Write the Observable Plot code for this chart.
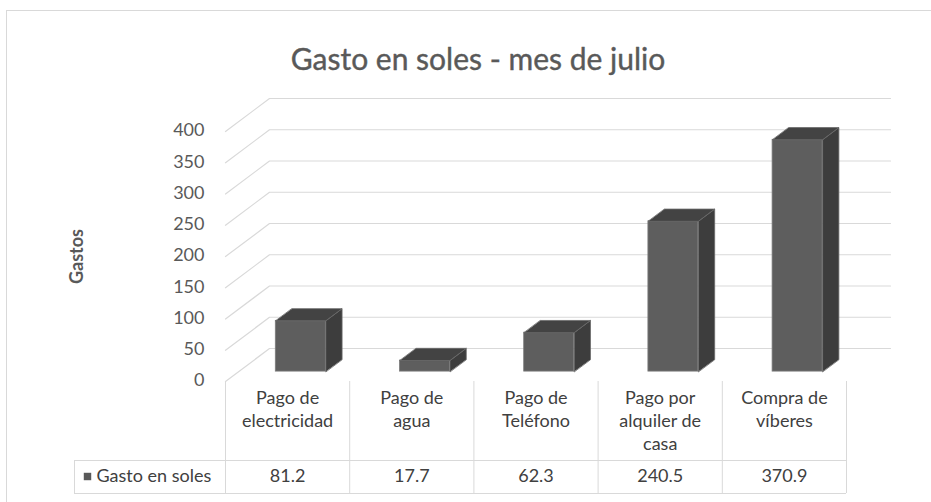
<!DOCTYPE html>
<html><head><meta charset="utf-8">
<script src="https://cdn.jsdelivr.net/npm/d3@7"></script>
<script src="https://cdn.jsdelivr.net/npm/@observablehq/plot@0.6"></script>
<style>html,body{margin:0;padding:0;background:#fff;overflow:hidden}</style>
</head><body><div id="chart"></div>
<script>
// ---- data ----
const title = "Gasto en soles - mes de julio";
const yLabel = "Gastos";
const seriesName = "Gasto en soles";
const categories = ["Pago de electricidad", "Pago de agua", "Pago de Teléfono", "Pago por alquiler de casa", "Compra de víberes"];
const categoryLines = [["Pago de", "electricidad"], ["Pago de", "agua"], ["Pago de", "Teléfono"], ["Pago por", "alquiler de", "casa"], ["Compra de", "víberes"]];
const values = [81.2, 17.7, 62.3, 240.5, 370.9];
const valueLabels = ["81.2", "17.7", "62.3", "240.5", "370.9"];
const yTicks = [0, 50, 100, 150, 200, 250, 300, 350, 400];

// ---- layout (pixels) ----
const W = 931, H = 502;
const X0 = 225, X1 = 846, Y0 = 381, Y1 = 131;
const n = categories.length;
const pxX = (X1 - X0) / n, pxY = (Y0 - Y1) / 400;
const xAt = px => (px - X0) / pxX - 0.5;
const yAt = px => (Y0 - px) / pxY;
const DX = 44 / pxX, DY = 33 / pxY;       // full depth of the 3-D box, in data units
const HALF = 25 / pxX, D0 = 0.3, D1 = 0.67; // bar half width and depth slice
const xLo = -0.5, xHi = n - 0.5;

const bars = categories.map((c, i) => ({i, c, v: values[i]}));

const grid = yTicks.flatMap(t => [
  {t, x: xLo, y: t},
  {t, x: xLo + DX, y: t + DY},
  {t, x: xHi + DX, y: t + DY}
]);

const sides = bars.flatMap(b => {
  const xr = b.i + HALF + D0 * DX;
  return [
    {k: b.i, x: xr, y: D0 * DY},
    {k: b.i, x: xr, y: b.v + D0 * DY},
    {k: b.i, x: xr + (D1 - D0) * DX, y: b.v + D1 * DY},
    {k: b.i, x: xr + (D1 - D0) * DX, y: D1 * DY}
  ];
});
const tops = bars.flatMap(b => {
  const xl = b.i - HALF + D0 * DX, xr = b.i + HALF + D0 * DX;
  const ex = (D1 - D0) * DX, ey = (D1 - D0) * DY;
  return [
    {k: b.i, x: xl, y: b.v + D0 * DY},
    {k: b.i, x: xr, y: b.v + D0 * DY},
    {k: b.i, x: xr + ex, y: b.v + D0 * DY + ey},
    {k: b.i, x: xl + ex, y: b.v + D0 * DY + ey}
  ];
});

const headerRows = categoryLines.flatMap((lines, i) => lines.map((t, j) => ({i, j, t})));
const colEdges = d3.range(n + 1).map(k => k - 0.5);

const font = "Lato, 'Open Sans', sans-serif";
const chart = Plot.plot({
  width: W, height: H,
  marginTop: 10, marginLeft: 6, marginRight: 0, marginBottom: 0,
  x: {type: "linear", domain: [xLo, xHi], range: [X0, X1], axis: null},
  y: {type: "linear", domain: [0, 400], range: [Y0, Y1], axis: null},
  style: {fontFamily: font, background: "#fff", overflow: "visible"},
  marks: [
    Plot.frame({stroke: "#d9d9d9"}),
    Plot.text([title], {frameAnchor: "top", dx: 9, dy: 38.5, fontSize: 30, fill: "#595959", stroke: "#595959", strokeWidth: 0.4, fontFamily: font}),
    Plot.line(grid, {x: "x", y: "y", z: "t", stroke: "#d9d9d9", strokeWidth: 1.2}),
    Plot.text(yTicks, {x: xLo, y: d => d, text: d => String(d), textAnchor: "end", dx: -21, dy: -1, fontSize: 18, fill: "#595959"}),
    Plot.text([yLabel], {x: xAt(77), y: yAt(256), rotate: -90, fontSize: 18, fontWeight: "bold", fill: "#595959"}),
    Plot.rect(bars, {x1: d => d.i - HALF + D0 * DX, x2: d => d.i + HALF + D0 * DX, y1: D0 * DY, y2: d => d.v + D0 * DY, fill: "#5e5e5e", stroke: "#7c7c7c", strokeWidth: 0.8}),
    Plot.line(sides, {x: "x", y: "y", z: "k", curve: "linear-closed", fill: "#3d3d3d", stroke: "#6a6a6a", strokeWidth: 0.8}),
    Plot.line(tops, {x: "x", y: "y", z: "k", curve: "linear-closed", fill: "#434343", stroke: "#6a6a6a", strokeWidth: 0.8}),
    // data table
    Plot.ruleX(colEdges, {y1: yAt(493), y2: 0, stroke: "#d9d9d9"}),
    Plot.ruleX([xAt(74)], {y1: yAt(493), y2: yAt(460), stroke: "#d9d9d9"}),
    Plot.ruleY([yAt(460), yAt(493)], {x1: xAt(74), x2: xHi, stroke: "#d9d9d9"}),
    Plot.text(headerRows, {x: "i", y: d => yAt(398 + 23 * d.j), text: "t", fontSize: 18, fill: "#404040"}),
    Plot.text(valueLabels, {x: (d, i) => i, y: yAt(476), text: d => d, fontSize: 18, fill: "#404040"}),
    Plot.dot([seriesName], {x: xAt(87), y: yAt(476), symbol: "square", r: 4.2, fill: "#595959"}),
    Plot.text([seriesName], {x: xAt(96), y: yAt(476), text: d => d, textAnchor: "start", fontSize: 18, fill: "#404040"})
  ]
});
document.getElementById("chart").appendChild(chart);
</script>
</body></html>
